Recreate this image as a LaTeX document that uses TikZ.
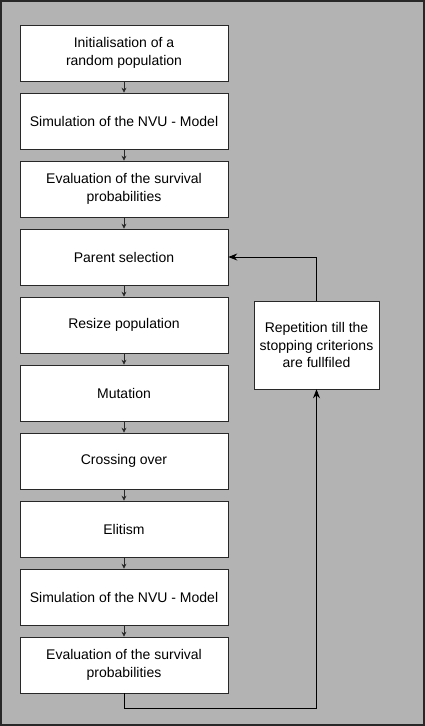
\documentclass[tikz,border=0pt]{standalone}
\usepackage{fontspec}
\setmainfont{Liberation Sans}
\usepackage{xcolor}
\usepackage{tikz}
\usetikzlibrary{arrows.meta, calc, positioning}

\definecolor{panelgray}{RGB}{179,179,179}
\definecolor{linegray}{RGB}{40,40,40}

\begin{document}
\begin{tikzpicture}%
	[x=1pt, y=-1pt,
	panel/.style={fill=panelgray, draw=linegray, line width=1.5pt},
	stage/.style={draw=linegray, fill=white, line width=0.6pt, minimum width=208pt, minimum height=56pt, align=center, inner sep=0pt, font=\fontsize{14}{17.5}\selectfont},
	loopbox/.style={stage, minimum width=125pt, minimum height=88pt},
	chain/.style={draw=linegray, line width=0.7pt, -{Stealth[length=5pt, width=5pt]}},
	back/.style={draw=black, line width=0.9pt, -{Stealth[length=9pt, width=7pt]}}]
%
%% Frame of the picture
%%
\useasboundingbox (0,0) rectangle (425,726);
\draw[panel] (1,1) rectangle (424,725);
%%
%% The stages of the algorithm
%%
\node[stage] (s1) at (124,53) {Initialisation of a\\random population};
\node[stage] (s2) at (124,121) {Simulation of the NVU - Model};
\node[stage] (s3) at (124,189) {Evaluation of the survival\\probabilities};
\node[stage] (s4) at (124,257) {Parent selection};
\node[stage] (s5) at (124,325) {Resize population};
\node[stage] (s6) at (124,393) {Mutation};
\node[stage] (s7) at (124,461) {Crossing over};
\node[stage] (s8) at (124,529) {Elitism};
\node[stage] (s9) at (124,597) {Simulation of the NVU - Model};
\node[stage] (s10) at (124,665) {Evaluation of the survival\\probabilities};
%%
%% The loop
%%
\node[loopbox] (rep) at (316.5,345) {Repetition till the\\stopping criterions\\are fullfiled};
%%
%% Arrows between the stages
%%
\foreach \i [count=\j from 2] in {1,...,9}
	\draw[chain] (s\i.south) -- (s\j.north);
%%
%% Arrows of the loop
%%
\draw[back] (s10.south) -- ++(0,15) -| (rep.south);
\draw[back] (rep.north) |- (s4.east);
%%
\end{tikzpicture}
\end{document}
